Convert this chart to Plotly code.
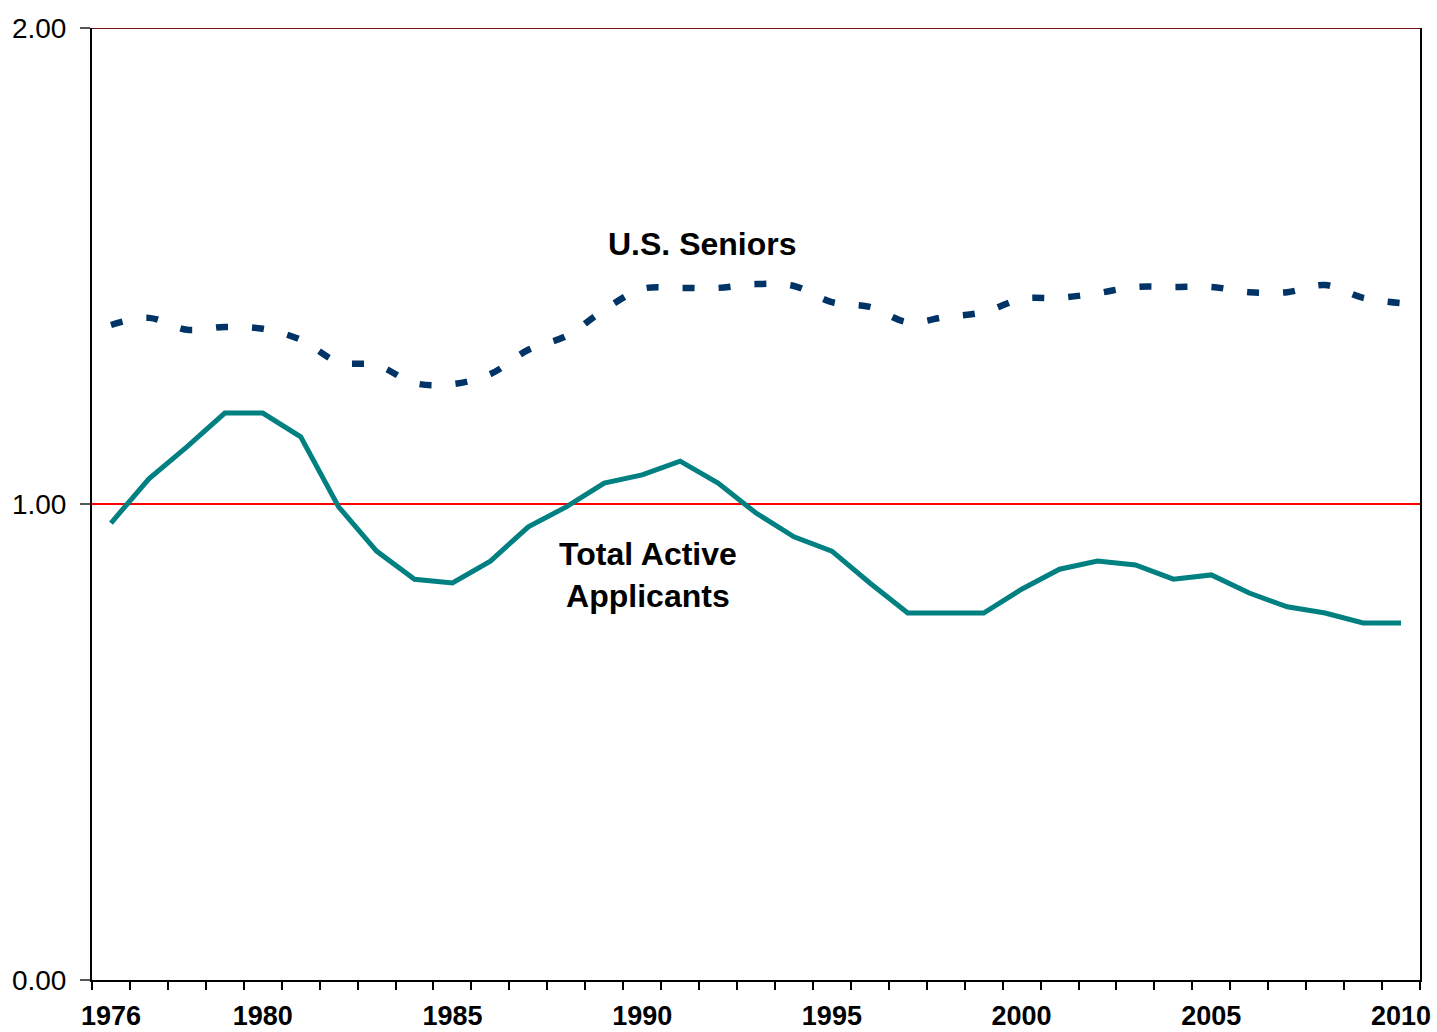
import plotly.graph_objects as go

years = list(range(1976, 2011))
total_active = [0.960, 1.053, 1.120, 1.191, 1.191, 1.141, 0.994, 0.901, 0.842, 0.834,
                0.880, 0.952, 0.994, 1.044, 1.061, 1.090, 1.044, 0.981, 0.931, 0.901,
                0.834, 0.771, 0.771, 0.771, 0.821, 0.863, 0.880, 0.872, 0.842, 0.851,
                0.813, 0.784, 0.771, 0.750, 0.750]
us_seniors = [1.376, 1.391, 1.366, 1.372, 1.368, 1.345, 1.298, 1.292, 1.254, 1.252,
              1.273, 1.324, 1.353, 1.408, 1.452, 1.454, 1.454, 1.462, 1.458, 1.424,
              1.414, 1.382, 1.393, 1.403, 1.431, 1.433, 1.443, 1.456, 1.456, 1.456,
              1.445, 1.445, 1.460, 1.433, 1.422]
label_years = [1976, 1980, 1985, 1990, 1995, 2000, 2005, 2010]
y_ticks = [0, 1, 2]
y_ticktext = ["0.00", "1.00", "2.00"]

FONT = "Liberation Sans, Arial, sans-serif"

fig = go.Figure()
fig.add_trace(go.Scatter(
    x=years, y=us_seniors, mode="lines", name="U.S. Seniors",
    line=dict(color="#003366", width=6.5, dash="12px,24px", shape="spline", smoothing=1),
))
fig.add_trace(go.Scatter(
    x=years, y=total_active, mode="lines", name="Total Active Applicants",
    line=dict(color="#008080", width=5),
))

fig.add_annotation(x=1991.58, y=1.546, text="<b>U.S. Seniors</b>", showarrow=False,
                   font=dict(family=FONT, size=32, color="black"))
fig.add_annotation(x=1990.15, y=0.851, text="<b>Total Active<br>Applicants</b>", showarrow=False,
                   font=dict(family=FONT, size=32, color="black"))

fig.add_shape(type="line", xref="paper", x0=0, x1=1, yref="y", y0=2, y1=2,
              line=dict(color="#7a1010", width=2))

boundaries = [y - 0.5 for y in years] + [years[-1] + 0.5]

fig.update_layout(
    width=1437, height=1032,
    margin=dict(l=92, r=17, t=28, b=52, autoexpand=False),
    paper_bgcolor="white", plot_bgcolor="white",
    showlegend=False,
    font=dict(family=FONT, color="black"),
)
fig.update_xaxes(
    range=[1975.5, 2010.5], automargin=False,
    tickmode="array", tickvals=label_years,
    ticktext=[f"<b>{y}</b>" for y in label_years],
    ticks="", tickfont=dict(size=27, family=FONT, color="black"),
    showgrid=False, zeroline=False,
    showline=True, linecolor="black", linewidth=2, mirror=False,
    minor=dict(tickvals=boundaries, ticks="outside", ticklen=8, tickwidth=2,
               tickcolor="black", showgrid=False),
    ticklabelstandoff=11,
)
fig.update_yaxes(
    range=[0, 2], automargin=False,
    tickmode="array", tickvals=y_ticks, ticktext=y_ticktext,
    ticks="outside", ticklen=10, tickwidth=2, tickcolor="#555555",
    tickfont=dict(size=28, family=FONT, color="black"),
    showgrid=True, gridcolor="red", gridwidth=1.5,
    zeroline=False,
    showline=True, linecolor="black", linewidth=2, mirror=True,
    ticklabelstandoff=8,
)

fig.write_html("out.html", config={"displayModeBar": False},
               post_script="document.body.style.margin='0';document.body.style.overflow='hidden';")
